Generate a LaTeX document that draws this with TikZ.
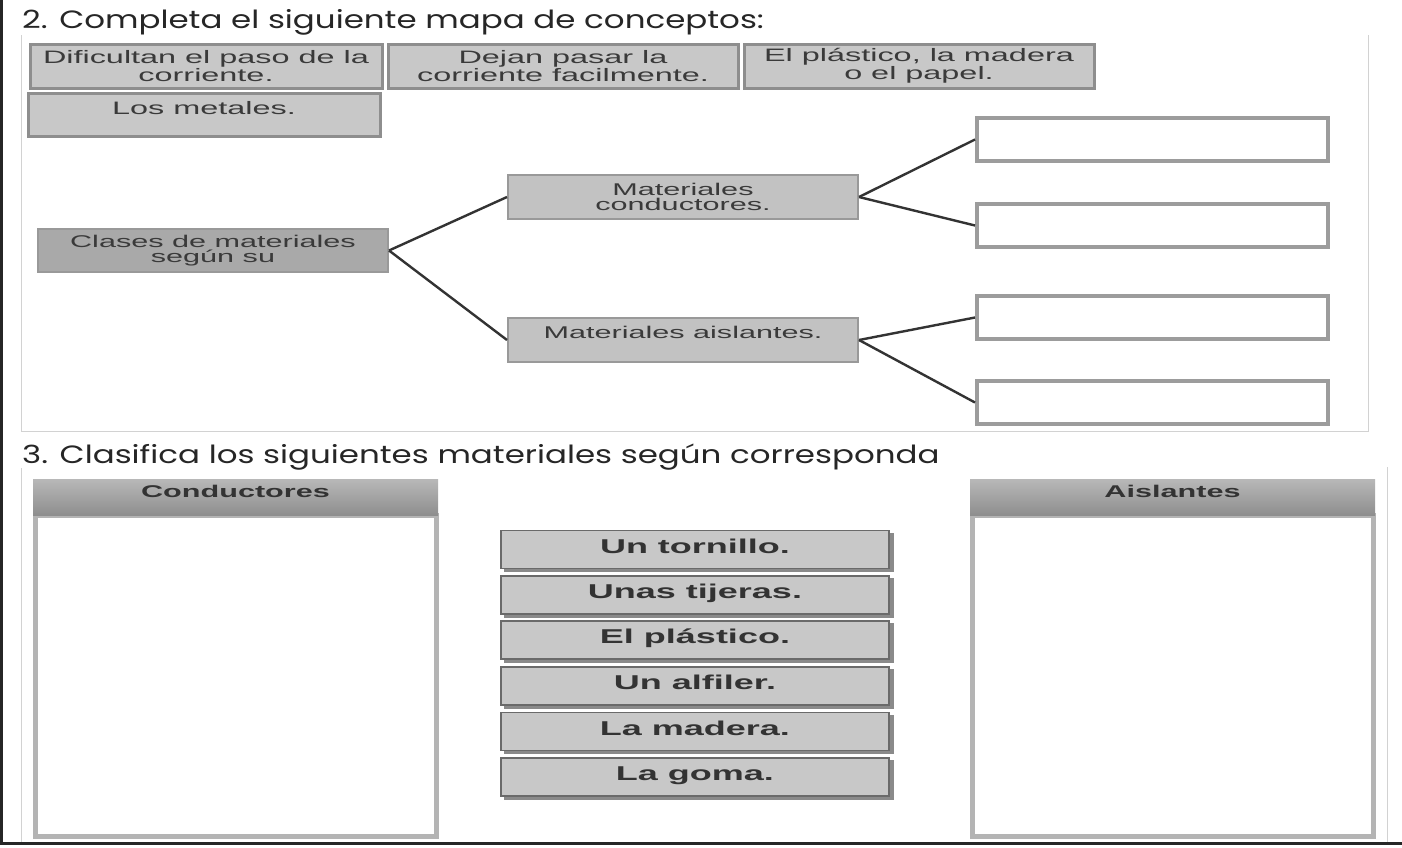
\documentclass[tikz,border=0pt]{standalone}
\usepackage{fontspec}
\setmainfont[FakeStretch=1.8]{Liberation Sans}
\newfontfamily\titlefont[FakeStretch=1.3]{Poppins}
\definecolor{ink}{HTML}{3A3A3A}
\definecolor{boxfill}{HTML}{C8C8C8}
\definecolor{boxline}{HTML}{8E8E8E}
\definecolor{darkfill}{HTML}{A9A9A9}
\definecolor{midfill}{HTML}{C2C2C2}
\definecolor{emptyline}{HTML}{9C9C9C}
\definecolor{panelline}{HTML}{D2D2D2}
\definecolor{frameline}{HTML}{262626}
\definecolor{bodyline}{HTML}{B4B4B4}
\definecolor{itemline}{HTML}{6A6A6A}
\definecolor{shadowc}{HTML}{8A8A8A}
\definecolor{headtop}{HTML}{B8B8B8}
\definecolor{headbot}{HTML}{8E8E8E}
\begin{document}
\begin{tikzpicture}[x=1pt,y=-1pt,
  title/.style={anchor=base west,inner sep=0pt,text=black!85,font=\titlefont\fontsize{25}{25}\selectfont},
  srcbox/.style={draw=boxline,line width=3pt,fill=boxfill,text=ink,align=center,inner sep=0pt,
     minimum width=352pt,minimum height=44pt,font=\fontsize{18}{14}\selectfont},
  mapbox/.style={draw=boxline!90,line width=2pt,fill=midfill,text=ink,align=center,inner sep=0pt,
     minimum width=350pt,minimum height=44pt,font=\fontsize{17}{15}\selectfont},
  emptybox/.style={draw=emptyline,line width=4pt,fill=white,inner sep=0pt,
     minimum width=351pt,minimum height=43pt},
  conn/.style={draw=black!80,line width=2.4pt},
  headbox/.style={top color=headtop,bottom color=headbot,draw=none,inner sep=0pt,
     minimum width=405pt,minimum height=36pt,text=black!80,
     font=\bfseries\fontsize{17}{17}\selectfont,text height=18pt,text depth=18pt},
  bodybox/.style={draw=bodyline,line width=5pt,fill=white,inner sep=0pt,
     minimum width=401pt,minimum height=321pt},
  itembox/.style={draw=itemline,line width=1.8pt,fill=boxfill,text=black!80,inner sep=0pt,
     minimum width=388pt,minimum height=38pt,text height=14pt,text depth=7pt,
     font=\bfseries\fontsize{20}{20}\selectfont,
     preaction={fill=shadowc,draw=shadowc,line width=1.8pt,transform canvas={xshift=4pt,yshift=-3pt}}}
]
\useasboundingbox (0,0) rectangle (1402,847);
\fill[white] (0,0) rectangle (1402,847);

% outer frame (left and bottom)
\draw[frameline,line width=2.6pt] (1.3,0) -- (1.3,843.5) -- (1402,843.5);

% panels
\draw[panelline,line width=1pt] (21.5,35) -- (21.5,431) -- (1368,431) -- (1368,35);
\draw[panelline,line width=1pt] (21.5,468) -- (21.5,842);
\draw[panelline,line width=1pt] (1387,467) -- (1387,842);

% titles
\node[title] (t2) at (22,28) {2. Completa el siguiente mapa de conceptos:};
\node[title] (t3) at (22,463) {3. Clasifica los siguientes materiales según corresponda};

% source boxes
\node[srcbox] (f1) at (206,66) {Dificultan el paso de la\\corriente.};
\node[srcbox,minimum width=350pt] (f2) at (563,66) {Dejan pasar la\\corriente facilmente.};
\node[srcbox,minimum width=350pt] (f3) at (919,66) {El plástico, la madera\\o el papel.};
\node[srcbox,minimum height=43pt] (f4) at (204,114.5) {Los metales.\\\mbox{}};

% concept map
\node[mapbox,fill=darkfill,minimum height=43pt] (clases) at (213,250.5) {Clases de materiales\\según su};
\node[mapbox] (cond) at (683,197) {Materiales\\conductores.};
\node[mapbox] (aisl) at (683,340) {Materiales aislantes.\\\mbox{}};

\node[emptybox] (e1) at (1152.5,139.5) {};
\node[emptybox] (e2) at (1152.5,225.5) {};
\node[emptybox] (e3) at (1152.5,317.5) {};
\node[emptybox] (e4) at (1152.5,402.5) {};

\draw[conn] (clases.east) -- (cond.west);
\draw[conn] (clases.east) -- (aisl.west);
\draw[conn] (cond.east) -- (e1.west);
\draw[conn] (cond.east) -- (e2.west);
\draw[conn] (aisl.east) -- (e3.west);
\draw[conn] (aisl.east) -- (e4.west);

% classification
\node[bodybox] (cbody) at (235.5,675.5) {};
\node[headbox] (chead) at (235.5,497) {Conductores};
\node[bodybox] (abody) at (1172.5,675.5) {};
\node[headbox] (ahead) at (1172.5,497) {Aislantes};

\node[itembox] (i1) at (695,549.5) {Un tornillo.};
\node[itembox] (i2) at (695,595) {Unas tijeras.};
\node[itembox] (i3) at (695,640) {El plástico.};
\node[itembox] (i4) at (695,686) {Un alfiler.};
\node[itembox] (i5) at (695,731.5) {La madera.};
\node[itembox] (i6) at (695,777) {La goma.};
\end{tikzpicture}
\end{document}
